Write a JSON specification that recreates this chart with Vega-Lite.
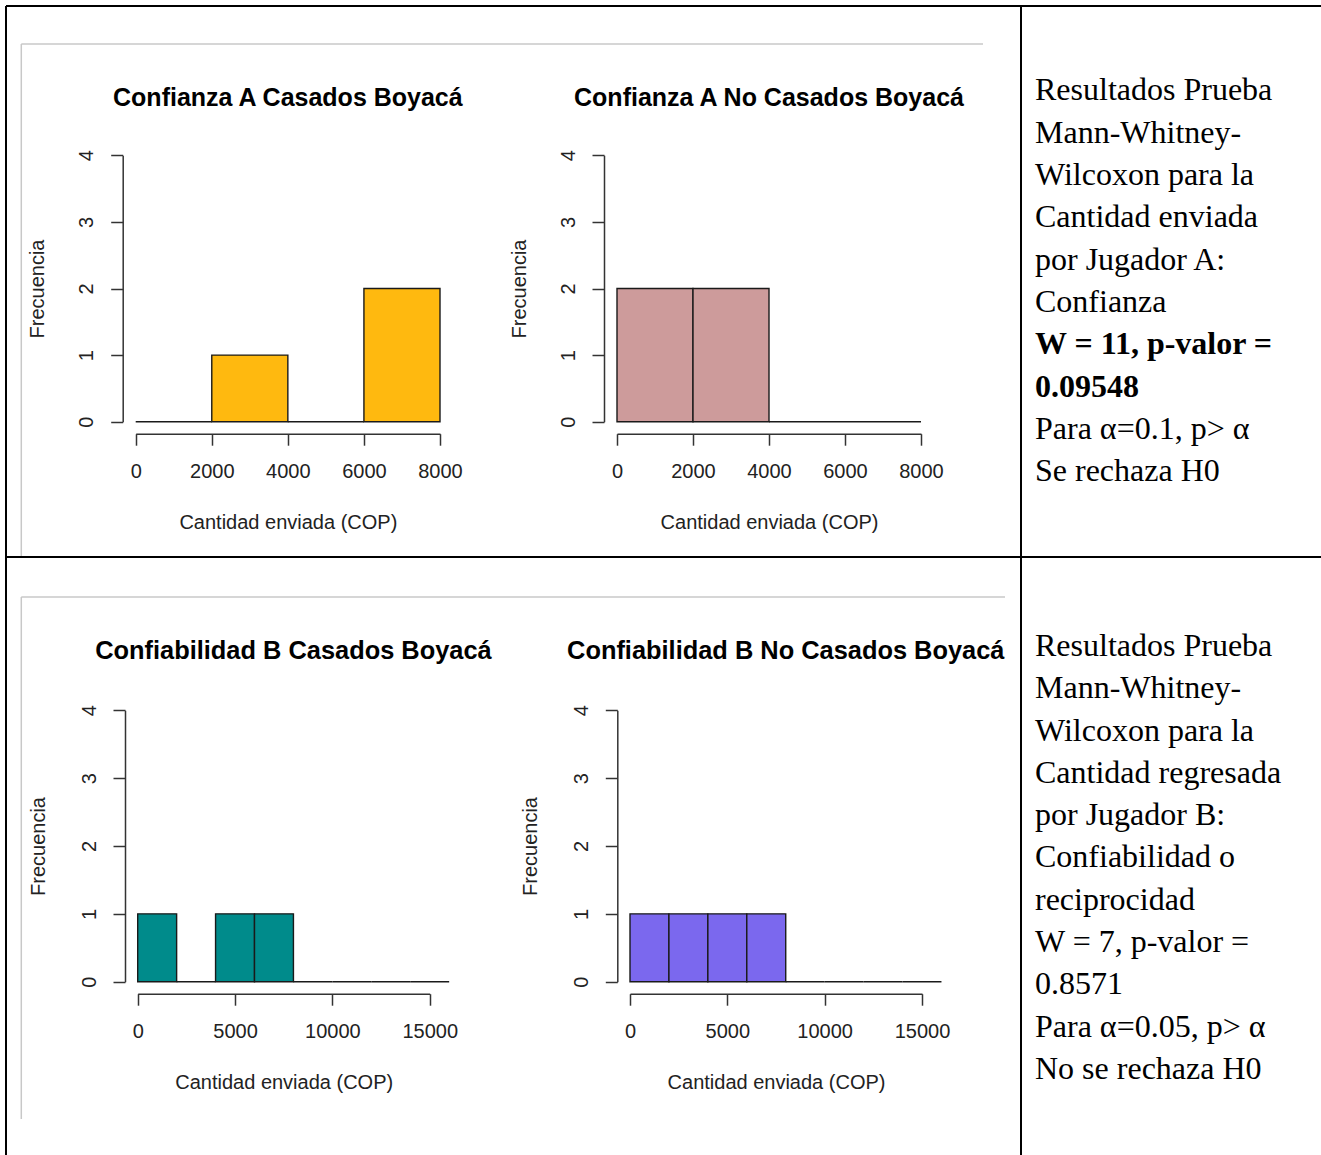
{
  "$schema": "https://vega.github.io/schema/vega-lite/v6.json",
  "padding": {"left": 5, "top": 5, "right": 0, "bottom": 0},
  "background": "white",
  "config": {
    "view": {"stroke": null},
    "axis": {
      "grid": false,
      "domainColor": "#333333",
      "domainWidth": 1.5,
      "tickColor": "#333333",
      "tickWidth": 1.5,
      "tickSize": 11.5,
      "labelFont": "Liberation Sans",
      "labelFontSize": 20,
      "labelColor": "#222222",
      "titleFont": "Liberation Sans",
      "titleFontSize": 20,
      "titleFontWeight": "normal",
      "titleColor": "#222222",
      "labelFlush": false,
      "labelOverlap": false,
      "labelBound": false,
      "format": "d"
    },
    "axisX": {"labelPadding": 16, "titlePadding": 31.5, "labelAngle": 0},
    "axisY": {"labelAngle": 270, "labelAlign": "center", "labelBaseline": "middle", "labelPadding": 24, "titlePadding": 29, "tickSize": 12}
  },
  "datasets": {
    "hist": [
      {"panel": "A", "bin_start": 0, "bin_end": 2000, "count": 0},
      {"panel": "A", "bin_start": 2000, "bin_end": 4000, "count": 1},
      {"panel": "A", "bin_start": 4000, "bin_end": 6000, "count": 0},
      {"panel": "A", "bin_start": 6000, "bin_end": 8000, "count": 2},
      {"panel": "B", "bin_start": 0, "bin_end": 2000, "count": 2},
      {"panel": "B", "bin_start": 2000, "bin_end": 4000, "count": 2},
      {"panel": "B", "bin_start": 4000, "bin_end": 6000, "count": 0},
      {"panel": "B", "bin_start": 6000, "bin_end": 8000, "count": 0},
      {"panel": "C", "bin_start": 0, "bin_end": 2000, "count": 1},
      {"panel": "C", "bin_start": 2000, "bin_end": 4000, "count": 0},
      {"panel": "C", "bin_start": 4000, "bin_end": 6000, "count": 1},
      {"panel": "C", "bin_start": 6000, "bin_end": 8000, "count": 1},
      {"panel": "C", "bin_start": 8000, "bin_end": 10000, "count": 0},
      {"panel": "C", "bin_start": 10000, "bin_end": 12000, "count": 0},
      {"panel": "C", "bin_start": 12000, "bin_end": 14000, "count": 0},
      {"panel": "C", "bin_start": 14000, "bin_end": 16000, "count": 0},
      {"panel": "D", "bin_start": 0, "bin_end": 2000, "count": 1},
      {"panel": "D", "bin_start": 2000, "bin_end": 4000, "count": 1},
      {"panel": "D", "bin_start": 4000, "bin_end": 6000, "count": 1},
      {"panel": "D", "bin_start": 6000, "bin_end": 8000, "count": 1},
      {"panel": "D", "bin_start": 8000, "bin_end": 10000, "count": 0},
      {"panel": "D", "bin_start": 10000, "bin_end": 12000, "count": 0},
      {"panel": "D", "bin_start": 12000, "bin_end": 14000, "count": 0},
      {"panel": "D", "bin_start": 14000, "bin_end": 16000, "count": 0}
    ],
    "titles": [
      {"panel": "A", "title": "Confianza A Casados Boyacá"},
      {"panel": "B", "title": "Confianza A No Casados Boyacá"},
      {"panel": "C", "title": "Confiabilidad B Casados Boyacá"},
      {"panel": "D", "title": "Confiabilidad B No Casados Boyacá"}
    ],
    "notes": [
      {"cell": 1, "line": 1, "text": "Resultados Prueba"},
      {"cell": 1, "line": 2, "text": "Mann-Whitney-"},
      {"cell": 1, "line": 3, "text": "Wilcoxon para la"},
      {"cell": 1, "line": 4, "text": "Cantidad enviada"},
      {"cell": 1, "line": 5, "text": "por Jugador A:"},
      {"cell": 1, "line": 6, "text": "Confianza"},
      {"cell": 1, "line": 7, "text": "W = 11, p-valor ="},
      {"cell": 1, "line": 8, "text": "0.09548"},
      {"cell": 1, "line": 9, "text": "Para α=0.1, p> α"},
      {"cell": 1, "line": 10, "text": "Se rechaza H0"},
      {"cell": 2, "line": 1, "text": "Resultados Prueba"},
      {"cell": 2, "line": 2, "text": "Mann-Whitney-"},
      {"cell": 2, "line": 3, "text": "Wilcoxon para la"},
      {"cell": 2, "line": 4, "text": "Cantidad regresada"},
      {"cell": 2, "line": 5, "text": "por Jugador B:"},
      {"cell": 2, "line": 6, "text": "Confiabilidad o"},
      {"cell": 2, "line": 7, "text": "reciprocidad"},
      {"cell": 2, "line": 8, "text": "W = 7, p-valor ="},
      {"cell": 2, "line": 9, "text": "0.8571"},
      {"cell": 2, "line": 10, "text": "Para α=0.05, p> α"},
      {"cell": 2, "line": 11, "text": "No se rechaza H0"}
    ]
  },
  "columns": 2,
  "spacing": 0,
  "bounds": "flush",
  "concat": [
    {
      "width": 1015,
      "height": 551,
      "layer": [
        {"data": {"values": [{}]}, "mark": {"type": "rule", "stroke": "black", "strokeWidth": 2}, "encoding": {"x": {"value": 0}, "x2": {"value": "width"}, "y": {"value": 0}}},
        {"data": {"values": [{}]}, "mark": {"type": "rule", "stroke": "black", "strokeWidth": 2}, "encoding": {"x": {"value": 0}, "y": {"value": 0}, "y2": {"value": "height"}}},
        {"data": {"values": [{}]}, "mark": {"type": "rule", "stroke": "black", "strokeWidth": 2}, "encoding": {"x": {"value": "width"}, "y": {"value": 0}, "y2": {"value": "height"}}},
        {"data": {"values": [{}]}, "mark": {"type": "rule", "stroke": "#c8c8c8", "strokeWidth": 1.5}, "encoding": {"x": {"value": 15.3}, "x2": {"value": 977}, "y": {"value": 38}}},
        {"data": {"values": [{}]}, "mark": {"type": "rule", "stroke": "#c8c8c8", "strokeWidth": 1.5}, "encoding": {"x": {"value": 15.3}, "y": {"value": 38}, "y2": {"value": "height"}}},
        {
          "layer": [
            {
              "data": {"name": "hist"},
              "transform": [{"filter": "datum.panel == 'A'"}],
              "mark": {"type": "rect", "fill": "#FFB90F", "stroke": "#1a1a1a", "strokeWidth": 1.4},
              "encoding": {
                "x": {"field": "bin_start", "type": "quantitative", "scale": {"domain": [0, 8000], "range": [129.7, 434], "nice": false, "zero": false}, "axis": {"orient": "bottom", "offset": -123.3, "values": [0, 2000, 4000, 6000, 8000], "format": "d", "title": "Cantidad enviada (COP)"}},
                "x2": {"field": "bin_end"},
                "y": {"field": "count", "type": "quantitative", "scale": {"domain": [0, 4], "range": [415.7, 149.3], "nice": false, "zero": false}, "axis": {"orient": "left", "offset": -116.7, "values": [0, 1, 2, 3, 4], "format": "d", "title": "Frecuencia"}},
                "y2": {"datum": 0}
              }
            },
            {
              "data": {"name": "titles"},
              "transform": [{"filter": "datum.panel == 'A'"}],
              "mark": {"type": "text", "font": "Liberation Sans", "fontWeight": "bold", "fontSize": 25, "align": "center", "baseline": "middle", "color": "black"},
              "encoding": {"x": {"datum": 4000, "type": "quantitative"}, "y": {"datum": 4.86, "type": "quantitative"}, "text": {"field": "title"}}
            }
          ]
        },
        {
          "layer": [
            {
              "data": {"name": "hist"},
              "transform": [{"filter": "datum.panel == 'B'"}],
              "mark": {"type": "rect", "fill": "#CD9B9B", "stroke": "#1a1a1a", "strokeWidth": 1.4},
              "encoding": {
                "x": {"field": "bin_start", "type": "quantitative", "scale": {"domain": [0, 8000], "range": [611, 915], "nice": false, "zero": false}, "axis": {"orient": "bottom", "offset": -123.3, "values": [0, 2000, 4000, 6000, 8000], "format": "d", "title": "Cantidad enviada (COP)"}},
                "x2": {"field": "bin_end"},
                "y": {"field": "count", "type": "quantitative", "scale": {"domain": [0, 4], "range": [415.7, 149.3], "nice": false, "zero": false}, "axis": {"orient": "left", "offset": -598, "values": [0, 1, 2, 3, 4], "format": "d", "title": "Frecuencia"}},
                "y2": {"datum": 0}
              }
            },
            {
              "data": {"name": "titles"},
              "transform": [{"filter": "datum.panel == 'B'"}],
              "mark": {"type": "text", "font": "Liberation Sans", "fontWeight": "bold", "fontSize": 25, "align": "center", "baseline": "middle", "color": "black"},
              "encoding": {"x": {"datum": 4000, "type": "quantitative"}, "y": {"datum": 4.86, "type": "quantitative"}, "text": {"field": "title"}}
            }
          ]
        }
      ],
      "resolve": {"scale": {"x": "independent", "y": "independent"}, "axis": {"x": "independent", "y": "independent"}}
    },
    {
      "width": 300,
      "height": 551,
      "layer": [
        {"data": {"values": [{}]}, "mark": {"type": "rule", "stroke": "black", "strokeWidth": 2}, "encoding": {"x": {"value": 0}, "x2": {"value": "width"}, "y": {"value": 0}}},
        {
          "data": {"name": "notes"},
          "transform": [{"filter": "datum.cell == 1 && datum.line != 7 && datum.line != 8"}],
          "mark": {"type": "text", "align": "left", "baseline": "alphabetic", "font": "Liberation Serif", "fontSize": 32, "color": "black"},
          "encoding": {
            "x": {"value": 14},
            "y": {"field": "line", "type": "quantitative", "scale": {"domain": [-1.234, 11.792], "reverse": true, "nice": false, "zero": false}, "axis": null},
            "text": {"field": "text"}
          }
        },
        {
          "data": {"name": "notes"},
          "transform": [{"filter": "datum.cell == 1 && (datum.line == 7 || datum.line == 8)"}],
          "mark": {"type": "text", "align": "left", "baseline": "alphabetic", "font": "Liberation Serif", "fontSize": 32, "fontWeight": "bold", "color": "black"},
          "encoding": {
            "x": {"value": 14},
            "y": {"field": "line", "type": "quantitative", "scale": {"domain": [-1.234, 11.792], "reverse": true, "nice": false, "zero": false}, "axis": null},
            "text": {"field": "text"}
          }
        }
      ]
    },
    {
      "width": 1015,
      "height": 598,
      "layer": [
        {"data": {"values": [{}]}, "mark": {"type": "rule", "stroke": "black", "strokeWidth": 2}, "encoding": {"x": {"value": 0}, "x2": {"value": "width"}, "y": {"value": 0}}},
        {"data": {"values": [{}]}, "mark": {"type": "rule", "stroke": "black", "strokeWidth": 2}, "encoding": {"x": {"value": 0}, "y": {"value": 0}, "y2": {"value": "height"}}},
        {"data": {"values": [{}]}, "mark": {"type": "rule", "stroke": "black", "strokeWidth": 2}, "encoding": {"x": {"value": "width"}, "y": {"value": 0}, "y2": {"value": "height"}}},
        {"data": {"values": [{}]}, "mark": {"type": "rule", "stroke": "#c8c8c8", "strokeWidth": 1.5}, "encoding": {"x": {"value": 15.3}, "x2": {"value": 999}, "y": {"value": 40}}},
        {"data": {"values": [{}]}, "mark": {"type": "rule", "stroke": "#c8c8c8", "strokeWidth": 1.5}, "encoding": {"x": {"value": 15.3}, "y": {"value": 40}, "y2": {"value": 562}}},
        {
          "layer": [
            {
              "data": {"name": "hist"},
              "transform": [{"filter": "datum.panel == 'C'"}],
              "mark": {"type": "rect", "fill": "#008B8B", "stroke": "#1a1a1a", "strokeWidth": 1.4},
              "encoding": {
                "x": {"field": "bin_start", "type": "quantitative", "scale": {"domain": [0, 15000], "range": [131.7, 423.7], "nice": false, "zero": false}, "axis": {"orient": "bottom", "offset": -161.3, "values": [0, 5000, 10000, 15000], "format": "d", "title": "Cantidad enviada (COP)"}},
                "x2": {"field": "bin_end"},
                "y": {"field": "count", "type": "quantitative", "scale": {"domain": [0, 4], "range": [424.7, 153.3], "nice": false, "zero": false}, "axis": {"orient": "left", "offset": -119, "values": [0, 1, 2, 3, 4], "format": "d", "title": "Frecuencia", "titlePadding": 31}},
                "y2": {"datum": 0}
              }
            },
            {
              "data": {"name": "titles"},
              "transform": [{"filter": "datum.panel == 'C'"}],
              "mark": {"type": "text", "font": "Liberation Sans", "fontWeight": "bold", "fontSize": 25.4, "align": "center", "baseline": "middle", "color": "black"},
              "encoding": {"x": {"datum": 8000, "type": "quantitative"}, "y": {"datum": 4.875, "type": "quantitative"}, "text": {"field": "title"}}
            }
          ]
        },
        {
          "layer": [
            {
              "data": {"name": "hist"},
              "transform": [{"filter": "datum.panel == 'D'"}],
              "mark": {"type": "rect", "fill": "#7B68EE", "stroke": "#1a1a1a", "strokeWidth": 1.4},
              "encoding": {
                "x": {"field": "bin_start", "type": "quantitative", "scale": {"domain": [0, 15000], "range": [624, 916], "nice": false, "zero": false}, "axis": {"orient": "bottom", "offset": -161.3, "values": [0, 5000, 10000, 15000], "format": "d", "title": "Cantidad enviada (COP)"}},
                "x2": {"field": "bin_end"},
                "y": {"field": "count", "type": "quantitative", "scale": {"domain": [0, 4], "range": [424.7, 153.3], "nice": false, "zero": false}, "axis": {"orient": "left", "offset": -611.3, "values": [0, 1, 2, 3, 4], "format": "d", "title": "Frecuencia", "titlePadding": 31}},
                "y2": {"datum": 0}
              }
            },
            {
              "data": {"name": "titles"},
              "transform": [{"filter": "datum.panel == 'D'"}],
              "mark": {"type": "text", "font": "Liberation Sans", "fontWeight": "bold", "fontSize": 25.4, "align": "center", "baseline": "middle", "color": "black"},
              "encoding": {"x": {"datum": 8000, "type": "quantitative"}, "y": {"datum": 4.875, "type": "quantitative"}, "text": {"field": "title"}}
            }
          ]
        }
      ],
      "resolve": {"scale": {"x": "independent", "y": "independent"}, "axis": {"x": "independent", "y": "independent"}}
    },
    {
      "width": 300,
      "height": 598,
      "layer": [
        {"data": {"values": [{}]}, "mark": {"type": "rule", "stroke": "black", "strokeWidth": 2}, "encoding": {"x": {"value": 0}, "x2": {"value": "width"}, "y": {"value": 0}}},
        {
          "data": {"name": "notes"},
          "transform": [{"filter": "datum.cell == 2"}],
          "mark": {"type": "text", "align": "left", "baseline": "alphabetic", "font": "Liberation Serif", "fontSize": 32, "color": "black"},
          "encoding": {
            "x": {"value": 14},
            "y": {"field": "line", "type": "quantitative", "scale": {"domain": [-1.3404, 12.7967], "reverse": true, "nice": false, "zero": false}, "axis": null},
            "text": {"field": "text"}
          }
        }
      ]
    }
  ]
}
